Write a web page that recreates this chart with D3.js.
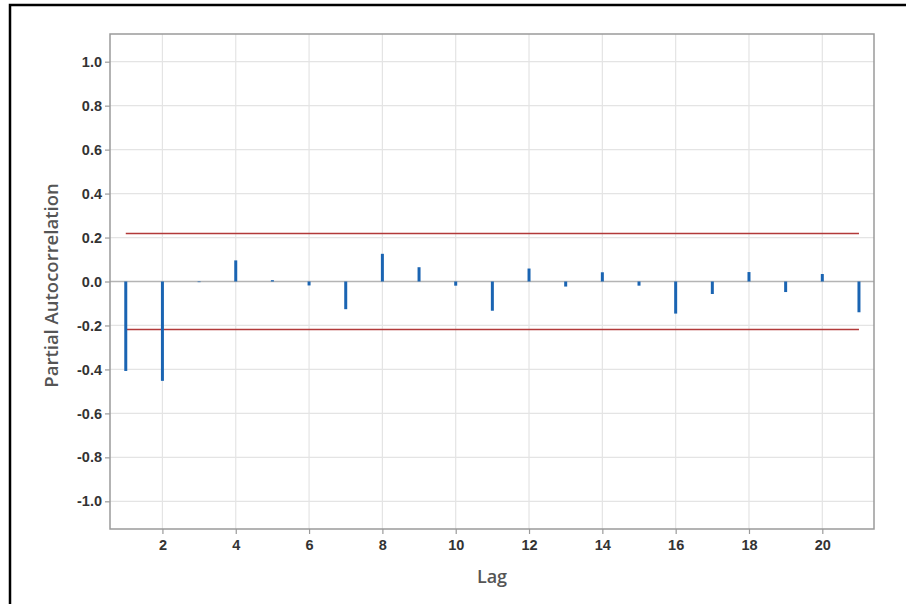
<!DOCTYPE html>
<html>
<head>
<meta charset="utf-8">
<script src="https://cdn.jsdelivr.net/npm/d3@7"></script>
<style>
  html, body { margin: 0; padding: 0; background: #fff; }
  svg { display: block; font-family: "Open Sans", "Noto Sans", sans-serif; }
</style>
</head>
<body>
<svg id="chart" width="906" height="604"></svg>
<script>
// Partial autocorrelation by lag
const lags = [1, 2, 3, 4, 5, 6, 7, 8, 9, 10, 11, 12, 13, 14, 15, 16, 17, 18, 19, 20, 21];
const pacf = [-0.407, -0.452, -0.003, 0.096, 0.006, -0.018, -0.126, 0.126, 0.065, -0.019,
              -0.133, 0.059, -0.023, 0.042, -0.019, -0.146, -0.057, 0.043, -0.048, 0.034, -0.140];
// Significance limits
const upperLimit = 0.218;
const lowerLimit = -0.218;
const xTicks = [2, 4, 6, 8, 10, 12, 14, 16, 18, 20];
const yTicks = [-1.0, -0.8, -0.6, -0.4, -0.2, 0.0, 0.2, 0.4, 0.6, 0.8, 1.0];

const svg = d3.select("#chart");
const plot = { left: 110, top: 34, right: 874, bottom: 529 };

// Outer frame
svg.append("path")
  .attr("d", "M10,604 L10,5 L906,5")
  .attr("fill", "none")
  .attr("stroke", "#000")
  .attr("stroke-width", 2.5);

const x = d3.scaleLinear().domain([0.57, 21.41]).range([plot.left, plot.right]);
const y = d3.scaleLinear().domain([-1.126, 1.126]).range([plot.bottom, plot.top]);

// Gridlines
const grid = svg.append("g");
grid.selectAll("line.v").data(xTicks).join("line")
  .attr("x1", d => x(d)).attr("x2", d => x(d))
  .attr("y1", plot.top).attr("y2", plot.bottom)
  .attr("stroke", "#e4e4e4").attr("stroke-width", 1.2);
grid.selectAll("line.h").data(yTicks).join("line")
  .attr("x1", plot.left).attr("x2", plot.right)
  .attr("y1", d => y(d)).attr("y2", d => y(d))
  .attr("stroke", "#e4e4e4").attr("stroke-width", 1.2);

// Zero reference line
svg.append("line")
  .attr("x1", plot.left).attr("x2", plot.right)
  .attr("y1", y(0)).attr("y2", y(0))
  .attr("stroke", "#b4b4b4").attr("stroke-width", 1.5);

// Significance limits
svg.selectAll("line.limit").data([upperLimit, lowerLimit]).join("line")
  .attr("x1", x(lags[0])).attr("x2", x(lags[lags.length - 1]))
  .attr("y1", d => y(d)).attr("y2", d => y(d))
  .attr("stroke", "#b23a3a").attr("stroke-width", 1.5);

// PACF spikes
svg.selectAll("line.spike").data(lags).join("line")
  .attr("x1", d => x(d)).attr("x2", d => x(d))
  .attr("y1", y(0)).attr("y2", (d, i) => y(pacf[i]))
  .attr("stroke", "#1a64b2").attr("stroke-width", 3);

// Plot frame
svg.append("rect")
  .attr("x", plot.left).attr("y", plot.top)
  .attr("width", plot.right - plot.left).attr("height", plot.bottom - plot.top)
  .attr("fill", "none").attr("stroke", "#9a9a9a").attr("stroke-width", 1.5);

// Axes (hyphen-minus for negative labels)
const fmtY = d => d3.format(".1f")(d).replace("\u2212", "-");
const xAxis = svg.append("g")
  .attr("transform", `translate(0,${plot.bottom})`)
  .call(d3.axisBottom(x).tickValues(xTicks).tickFormat(d3.format("d")).tickSize(5).tickPadding(6));
const yAxis = svg.append("g")
  .attr("transform", `translate(${plot.left},0)`)
  .call(d3.axisLeft(y).tickValues(yTicks).tickFormat(fmtY).tickSize(5).tickPadding(3));
[xAxis, yAxis].forEach(a => {
  a.select(".domain").remove();
  a.selectAll(".tick line").attr("stroke", "#9a9a9a").attr("stroke-width", 1.2);
  a.selectAll(".tick text")
    .attr("fill", "#333")
    .style("font-size", "14.5px")
    .style("font-weight", "600");
});

// Axis titles
svg.append("text")
  .attr("x", (plot.left + plot.right) / 2).attr("y", 583)
  .attr("text-anchor", "middle")
  .attr("fill", "#555")
  .style("font-size", "18px")
  .style("font-weight", "600")
  .text("Lag");
svg.append("text")
  .attr("transform", `translate(58,${(plot.top + plot.bottom) / 2 + 4}) rotate(-90)`)
  .attr("text-anchor", "middle")
  .attr("fill", "#555")
  .style("font-size", "18.5px")
  .style("font-weight", "600")
  .text("Partial Autocorrelation");
</script>
</body>
</html>
